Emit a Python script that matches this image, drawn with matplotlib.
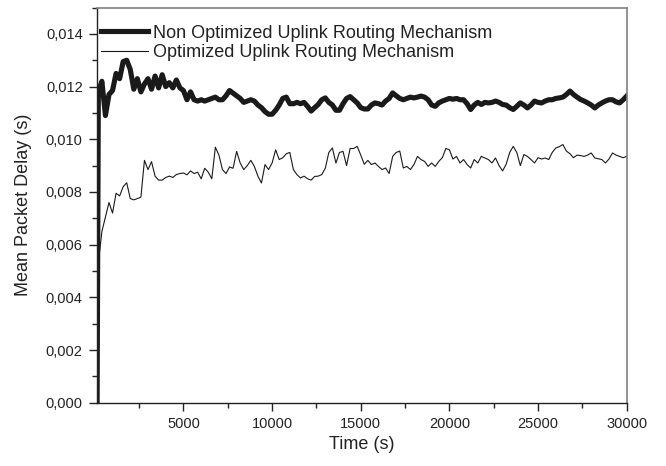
import numpy as np
import matplotlib
matplotlib.use("Agg")
import matplotlib.pyplot as plt
from matplotlib.ticker import MultipleLocator, FuncFormatter

plt.rcParams['font.family'] = ['Liberation Sans', 'DejaVu Sans']

# time grid (s), one sample every 200 s
time = np.arange(200, 30001, 200)

# mean packet delay in ms
non_opt = [
    11.8, 12.2, 10.9, 11.7, 11.85, 12.5, 12.3, 12.95, 13.0, 12.65,
    11.9, 12.3, 11.8, 12.1, 12.3, 11.9, 12.4, 11.95, 12.45, 12.0,
    12.15, 11.95, 12.25, 11.95, 11.85, 11.5, 11.8, 11.5, 11.45, 11.5,
    11.45, 11.5, 11.55, 11.6, 11.5, 11.5, 11.65, 11.85, 11.75, 11.65,
    11.55, 11.4, 11.45, 11.5, 11.45, 11.3, 11.2, 11.05, 10.95, 10.95,
    11.1, 11.3, 11.55, 11.6, 11.35, 11.35, 11.4, 11.35, 11.4, 11.25,
    11.07, 11.2, 11.32, 11.5, 11.57, 11.4, 11.3, 11.1, 11.1, 11.35,
    11.55, 11.62, 11.5, 11.38, 11.2, 11.15, 11.15, 11.3, 11.38, 11.35,
    11.3, 11.45, 11.55, 11.76, 11.65, 11.55, 11.5, 11.55, 11.6, 11.57,
    11.6, 11.64, 11.6, 11.5, 11.3, 11.25, 11.38, 11.45, 11.5, 11.55,
    11.52, 11.55, 11.5, 11.5, 11.35, 11.13, 11.3, 11.4, 11.32, 11.4,
    11.38, 11.4, 11.45, 11.4, 11.32, 11.3, 11.2, 11.13, 11.25, 11.38,
    11.3, 11.19, 11.3, 11.45, 11.4, 11.38, 11.45, 11.5, 11.5, 11.55,
    11.57, 11.6, 11.7, 11.83, 11.7, 11.6, 11.51, 11.45, 11.38, 11.3,
    11.19, 11.3, 11.38, 11.45, 11.5, 11.5, 11.42, 11.38, 11.5, 11.64,
]
optimized = [
    5.3, 6.5, 7.05, 7.6, 7.2, 7.95, 7.85, 8.2, 8.35, 7.75,
    7.7, 7.75, 7.8, 9.2, 8.85, 9.15, 8.6, 8.45, 8.45, 8.55,
    8.6, 8.55, 8.66, 8.7, 8.72, 8.65, 8.8, 8.7, 8.75, 8.5,
    8.9, 8.75, 8.5, 9.7, 9.4, 8.85, 8.7, 8.95, 8.9, 9.54,
    9.1, 8.85, 9.0, 9.2, 8.97, 8.6, 8.34, 9.04, 8.85, 9.1,
    9.6, 9.23, 9.3, 9.45, 9.5, 8.85, 8.66, 8.53, 8.6, 8.5,
    8.45, 8.59, 8.6, 8.66, 8.9, 9.5, 9.67, 9.1, 9.5, 9.54,
    9.0, 9.65, 9.65, 9.73, 9.4, 9.05, 9.2, 9.04, 9.1, 8.97,
    8.85, 8.91, 8.7, 9.35, 9.5, 9.55, 8.91, 8.97, 8.85, 9.04,
    9.35, 9.23, 9.16, 8.97, 9.1, 8.97, 9.16, 9.3, 9.65, 9.6,
    9.25, 9.35, 9.1, 9.23, 9.04, 8.91, 9.23, 9.1, 9.35, 9.29,
    9.23, 9.1, 9.29, 9.0, 8.8, 9.05, 9.5, 9.73, 9.5, 9.0,
    9.42, 9.35, 9.23, 9.1, 9.3, 9.25, 9.29, 9.23, 9.5, 9.67,
    9.72, 9.8, 9.55, 9.45, 9.3, 9.4, 9.38, 9.35, 9.4, 9.48,
    9.29, 9.26, 9.23, 9.1, 9.25, 9.48, 9.4, 9.35, 9.3, 9.35,
]
# the non optimized curve rises from zero at the very start
start_time = [130]
start_delay = [0.0]

t_non = np.concatenate([start_time, time])
d_non = np.concatenate([start_delay, non_opt]) / 1000.0
d_opt = np.array(optimized) / 1000.0

fig = plt.figure(figsize=(6.66, 4.66), dpi=100)
ax = fig.add_axes([0.145, 0.1358, 0.796, 0.848])

ax.plot(t_non, d_non, color='#1a1a1a', lw=3.7, label='Non Optimized Uplink Routing Mechanism')
ax.plot(time, d_opt, color='#1a1a1a', lw=0.8, label='Optimized Uplink Routing Mechanism')

ax.set_xlim(100, 30000)
ax.set_ylim(0, 0.015)
ax.xaxis.set_major_locator(MultipleLocator(5000))
ax.xaxis.set_minor_locator(MultipleLocator(2500))
ax.yaxis.set_major_locator(MultipleLocator(0.002))
ax.yaxis.set_minor_locator(MultipleLocator(0.001))
ax.yaxis.set_major_formatter(FuncFormatter(lambda v, p: f"{v:.3f}".replace('.', ',')))

ax.tick_params(which='both', direction='out', top=False, right=False,
               labelsize=10.5, labelcolor='#222222', color='#222222')
ax.tick_params(which='major', length=6, width=1, pad=4)
ax.tick_params(which='minor', length=3.5, width=1)

for s in ['left', 'bottom']:
    ax.spines[s].set_color('#222222')
    ax.spines[s].set_linewidth(1)
for s in ['top', 'right']:
    ax.spines[s].set_color('#808080')
    ax.spines[s].set_linewidth(1.2)

ax.set_xlabel('Time (s)', fontsize=13, color='#222222', labelpad=4)
ax.set_ylabel('Mean Packet Delay (s)', fontsize=13, color='#222222', labelpad=10)

leg = ax.legend(loc='upper left', bbox_to_anchor=(0.008, 0.957), frameon=False,
                fontsize=13, handlelength=2.6, handletextpad=0.3,
                labelspacing=0.15, borderpad=0, borderaxespad=0)
for txt in leg.get_texts():
    txt.set_color('#222222')

fig.savefig('out.png', dpi=100)
